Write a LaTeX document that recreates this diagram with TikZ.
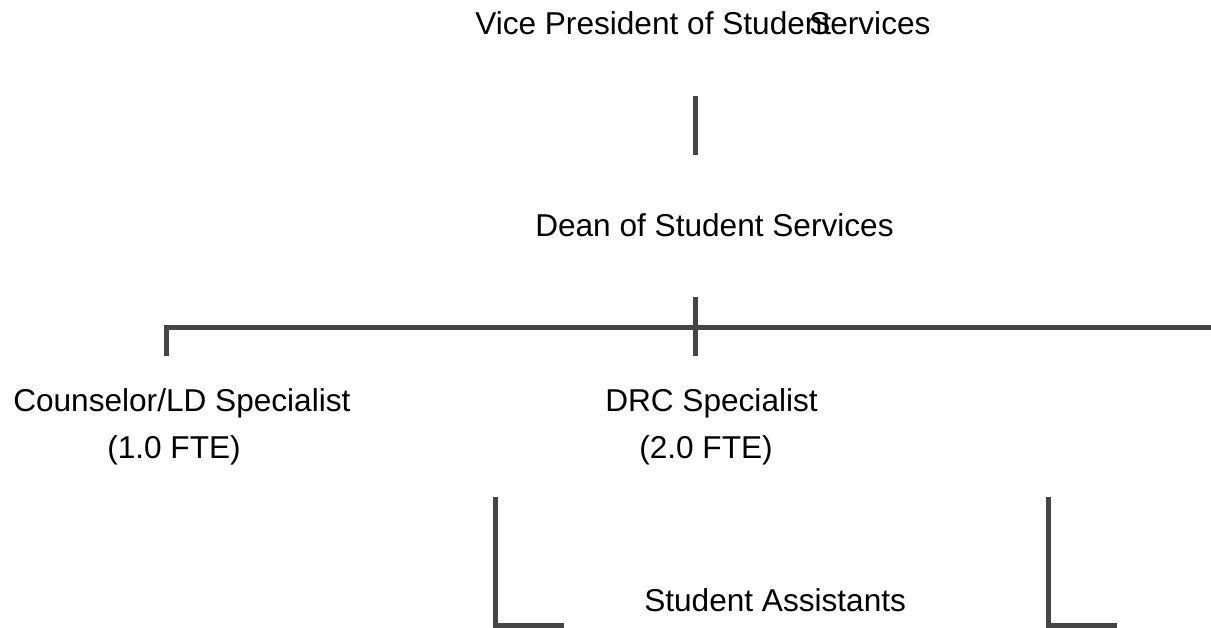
\documentclass[tikz,border=0pt]{standalone}
\usepackage{fontspec}
\setmainfont{Liberation Sans}

\begin{document}
\begin{tikzpicture}[x=0.75pt,y=-0.75pt]
  \tikzset{
    post/.style={anchor=base west, inner sep=0pt, font=\fontsize{23.7}{28}\selectfont},
    link/.style={draw=black!73, line width=3.75pt, line join=miter},
  }
  \useasboundingbox (0,0) rectangle (1211,628);

  % titles
  \node (vp) at (475,35) [post] {Vice President of Student};
  \node (vps) at (809,35) [post] {Services};
  \node (dean) at (535,236) [post] {Dean of Student Services};
  \node (couns) at (13,411) [post] {Counselor/LD Specialist};
  \node (counsfte) at (107,458) [post] {(1.0 FTE)};
  \node (drc) at (605,411) [post] {DRC Specialist};
  \node (drcfte) at (639,458) [post] {(2.0 FTE)};
  \node (sa) at (644,611) [post] {Student Assistants};

  % line ends
  \coordinate (vpdown) at (695,96);
  \coordinate (deanup) at (695,155);
  \coordinate (deandown) at (695,297);
  \coordinate (drcup) at (695,356);
  \coordinate (counsup) at (166,356);
  \coordinate (buscorner) at (166,327);
  \coordinate (busend) at (1220,327);
  \coordinate (saleft) at (495,497);
  \coordinate (saleftfoot) at (495,625);
  \coordinate (saleftend) at (564,625);
  \coordinate (saright) at (1048,497);
  \coordinate (sarightfoot) at (1048,625);
  \coordinate (sarightend) at (1117,625);

  \draw [link] (vpdown) -- (deanup);
  \draw [link] (deandown) -- (drcup);
  \draw [link] (counsup) -- (buscorner) -- (busend);
  \draw [link] (saleft) -- (saleftfoot) -- (saleftend);
  \draw [link] (saright) -- (sarightfoot) -- (sarightend);
\end{tikzpicture}
\end{document}
